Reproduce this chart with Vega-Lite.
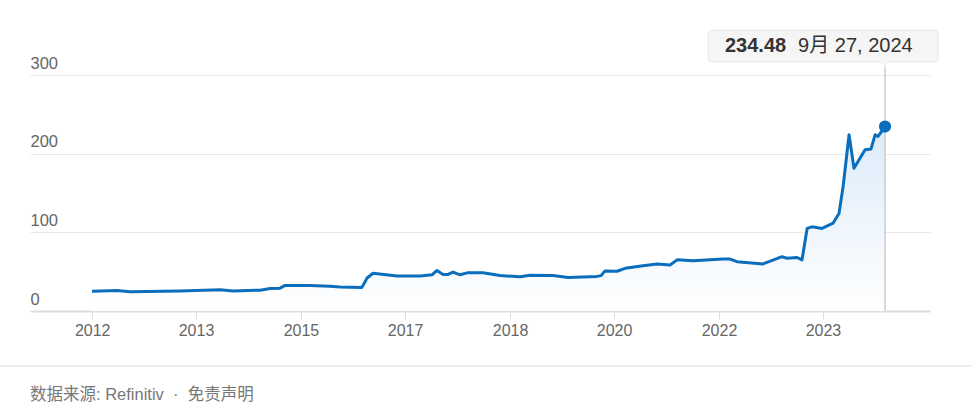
{
  "$schema": "https://vega.github.io/schema/vega-lite/v6.json",
  "width": 900,
  "height": 236,
  "autosize": {"type": "none"},
  "padding": {"left": 30, "top": 75, "right": 42, "bottom": 105},
  "config": {
    "view": {"stroke": null},
    "font": "Liberation Sans, Noto Sans CJK SC",
    "axis": {"labelFont": "Liberation Sans", "labelColor": "#666666", "labelFontSize": 16, "title": null}
  },
  "data": {
    "values": [
      {"date": "2012-01-01", "price": 25},
      {"date": "2012-05-27", "price": 26},
      {"date": "2012-08-11", "price": 24.5},
      {"date": "2013-05-31", "price": 25.5},
      {"date": "2014-01-21", "price": 27},
      {"date": "2014-04-07", "price": 25.5},
      {"date": "2014-09-13", "price": 26.5},
      {"date": "2014-11-11", "price": 28.5},
      {"date": "2015-01-08", "price": 29},
      {"date": "2015-02-07", "price": 32.5},
      {"date": "2015-07-03", "price": 32.5},
      {"date": "2015-10-29", "price": 31.5},
      {"date": "2015-12-26", "price": 30.5},
      {"date": "2016-05-03", "price": 30},
      {"date": "2016-06-02", "price": 42},
      {"date": "2016-07-07", "price": 48},
      {"date": "2016-11-25", "price": 44.5},
      {"date": "2017-04-09", "price": 44.5},
      {"date": "2017-06-18", "price": 46},
      {"date": "2017-07-17", "price": 51.5},
      {"date": "2017-08-22", "price": 46.5},
      {"date": "2017-09-20", "price": 46.5},
      {"date": "2017-10-19", "price": 49.5},
      {"date": "2017-11-29", "price": 46},
      {"date": "2018-01-10", "price": 48.5},
      {"date": "2018-04-13", "price": 48.5},
      {"date": "2018-07-22", "price": 45},
      {"date": "2018-11-17", "price": 43.5},
      {"date": "2019-01-14", "price": 45.5},
      {"date": "2019-05-29", "price": 45},
      {"date": "2019-08-25", "price": 42.5},
      {"date": "2020-02-11", "price": 44},
      {"date": "2020-03-06", "price": 45},
      {"date": "2020-03-29", "price": 51},
      {"date": "2020-06-08", "price": 50.5},
      {"date": "2020-07-25", "price": 54.3},
      {"date": "2020-11-07", "price": 57.6},
      {"date": "2021-01-28", "price": 59.8},
      {"date": "2021-04-15", "price": 58.5},
      {"date": "2021-05-26", "price": 65},
      {"date": "2021-08-28", "price": 64},
      {"date": "2022-02-20", "price": 66},
      {"date": "2022-04-02", "price": 66},
      {"date": "2022-05-13", "price": 62.7},
      {"date": "2022-10-12", "price": 59.8},
      {"date": "2023-02-01", "price": 69},
      {"date": "2023-03-02", "price": 67},
      {"date": "2023-04-30", "price": 68},
      {"date": "2023-05-29", "price": 65},
      {"date": "2023-06-28", "price": 105},
      {"date": "2023-07-27", "price": 107},
      {"date": "2023-09-24", "price": 105},
      {"date": "2023-11-27", "price": 111.6},
      {"date": "2024-01-01", "price": 124},
      {"date": "2024-01-25", "price": 158},
      {"date": "2024-02-29", "price": 224},
      {"date": "2024-03-29", "price": 181.5},
      {"date": "2024-06-02", "price": 205},
      {"date": "2024-07-07", "price": 206},
      {"date": "2024-07-31", "price": 224},
      {"date": "2024-08-17", "price": 222},
      {"date": "2024-09-27", "price": 234.48}
    ]
  },
  "encoding": {
    "x": {
      "field": "date",
      "type": "temporal",
      "scale": {"domain": [{"year": 2011, "month": 1, "date": 2, "utc": true}, {"year": 2025, "month": 6, "date": 18, "utc": true}]},
      "axis": {
        "values": [
          {"year": 2012, "month": 1, "date": 2, "utc": true},
          {"year": 2013, "month": 9, "date": 2, "utc": true},
          {"year": 2015, "month": 5, "date": 11, "utc": true},
          {"year": 2017, "month": 1, "date": 11, "utc": true},
          {"year": 2018, "month": 9, "date": 19, "utc": true},
          {"year": 2020, "month": 5, "date": 21, "utc": true},
          {"year": 2022, "month": 1, "date": 27, "utc": true},
          {"year": 2023, "month": 9, "date": 29, "utc": true}
        ],
        "format": "%Y",
        "grid": false,
        "domainColor": "#dddddd",
        "domainWidth": 2,
        "tickColor": "#dddddd",
        "tickWidth": 1,
        "tickSize": 8,
        "labelPadding": 3,
        "labelFlush": false
      }
    },
    "y": {
      "field": "price",
      "type": "quantitative",
      "scale": {"domain": [0, 300], "nice": false},
      "axis": {
        "values": [0, 100, 200, 300],
        "domain": false,
        "ticks": false,
        "tickSize": 0,
        "labelAlign": "left",
        "labelBaseline": "alphabetic",
        "labelPadding": 0,
        "labelOffset": -7,
        "labelFontSize": 16.5,
        "gridColor": "#e8e8e8",
        "gridWidth": 1
      }
    }
  },
  "layer": [
    {
      "mark": {
        "type": "area",
        "clip": false,
        "fill": {
          "gradient": "linear",
          "x1": 0, "y1": 1, "x2": 0, "y2": 0,
          "stops": [{"offset": 0, "color": "#ffffff"}, {"offset": 1, "color": "#dcebfa"}]
        }
      }
    },
    {
      "transform": [{"filter": "datum.price == 234.48"}],
      "mark": {"type": "rule", "color": "#cccccc", "strokeWidth": 1.5, "clip": false},
      "encoding": {
        "y": {"datum": 0},
        "y2": {"datum": 316}
      }
    },
    {
      "mark": {"type": "line", "color": "#0a6ebd", "strokeWidth": 3, "strokeJoin": "round", "clip": false}
    },
    {
      "transform": [{"filter": "datum.price == 234.48"}],
      "mark": {"type": "point", "filled": true, "opacity": 1, "color": "#0a6ebd", "size": 150, "clip": false}
    },
    {
      "transform": [{"filter": "datum.price == 234.48"}],
      "mark": {"type": "rect", "fill": "#f5f5f5", "stroke": "#e6e6e6", "strokeWidth": 1, "cornerRadius": 4, "clip": false},
      "encoding": {
        "x": {"datum": {"year": 2021, "month": 11, "date": 24, "utc": true}, "type": "temporal"},
        "x2": {"datum": {"year": 2025, "month": 8, "date": 4, "utc": true}},
        "y": {"datum": 357},
        "y2": {"datum": 316.5}
      }
    },
    {
      "transform": [{"filter": "datum.price == 234.48"}],
      "mark": {"type": "point", "shape": "triangle-down", "filled": true, "color": "#f5f5f5", "size": 60, "opacity": 1, "clip": false},
      "encoding": {
        "y": {"datum": 313.5}
      }
    },
    {
      "transform": [{"filter": "datum.price == 234.48"}],
      "mark": {"type": "text", "align": "left", "baseline": "middle", "fontSize": 20, "fontWeight": "bold", "color": "#333333", "font": "Liberation Sans", "clip": false},
      "encoding": {
        "x": {"datum": {"year": 2022, "month": 3, "date": 3, "utc": true}, "type": "temporal"},
        "y": {"datum": 336.8},
        "text": {"field": "price", "type": "quantitative", "format": ".2f"}
      }
    },
    {
      "transform": [{"filter": "datum.price == 234.48"}],
      "mark": {"type": "text", "align": "left", "baseline": "middle", "fontSize": 20, "color": "#333333", "clip": false},
      "encoding": {
        "x": {"datum": {"year": 2023, "month": 5, "date": 6, "utc": true}, "type": "temporal"},
        "y": {"datum": 336.8},
        "text": {"value": "9月 27, 2024"}
      }
    },
    {
      "transform": [{"filter": "datum.price == 234.48"}],
      "mark": {"type": "rule", "color": "#dddddd", "strokeWidth": 1, "clip": false},
      "encoding": {
        "x": {"datum": {"year": 2010, "month": 7, "date": 10, "utc": true}, "type": "temporal"},
        "x2": {"datum": {"year": 2026, "month": 2, "date": 20, "utc": true}},
        "y": {"datum": -70}
      }
    },
    {
      "transform": [{"filter": "datum.price == 234.48"}],
      "mark": {"type": "text", "align": "left", "baseline": "middle", "fontSize": 16.5, "color": "#777777", "clip": false},
      "encoding": {
        "x": {"datum": {"year": 2011, "month": 1, "date": 2, "utc": true}, "type": "temporal"},
        "y": {"datum": -106.8},
        "text": {"value": "数据来源: Refinitiv\u00a0\u00a0·\u00a0\u00a0免责声明"}
      }
    }
  ]
}
